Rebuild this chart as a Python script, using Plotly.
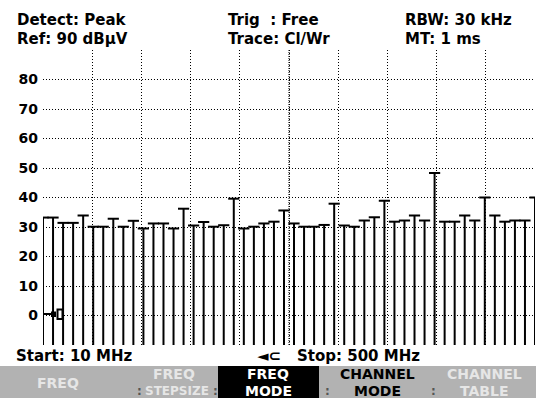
import plotly.graph_objects as go

freq_mhz = [10, 20, 30, 40, 50, 60, 70, 80, 90, 100,
            110, 120, 130, 140, 150, 160, 170, 180, 190, 200,
            210, 220, 230, 240, 250, 260, 270, 280, 290, 300,
            310, 320, 330, 340, 350, 360, 370, 380, 390, 400,
            410, 420, 430, 440, 450, 460, 470, 480, 490, 500]
level_dbuv = [33.2, 33.2, 31.4, 31.4, 33.9, 30.1, 30.1, 32.8, 30.1, 32.1,
              29.5, 31.2, 31.2, 29.5, 36.2, 30.5, 31.7, 30.1, 30.6, 39.6,
              29.5, 30.1, 31.2, 31.8, 35.6, 31.2, 30.1, 30.1, 30.7, 37.9,
              30.5, 30.1, 32.2, 33.3, 38.9, 31.8, 32.2, 33.9, 32.2, 48.3,
              31.8, 31.8, 33.9, 32.2, 40.0, 33.9, 31.8, 32.2, 32.2, 40.0]
y_ticks = [-10, 0, 10, 20, 30, 40, 50, 60, 70, 80, 90]
y_ticktext = ["", "0", "10", "20", "30", "40", "50", "60", "70", "80", ""]
x_start, x_stop, x_div = 10, 500, 49
y_min, y_max = -10, 90

header_left = ["Detect: Peak", "Ref: 90 dB\u00b5V"]
header_mid = ["Trig\u00a0\u00a0: Free", "Trace: Cl/Wr"]
header_right = ["RBW: 30 kHz", "MT: 1 ms"]

# ---- geometry (pixels) ----
W, H = 536, 398
L, R, T, B = 43, 535, 50, 345


def px(x):
    return (x - L) / (R - L)


def py(y):
    return (B - y) / (B - T)


xs, ys = [], []
for f, v in zip(freq_mhz, level_dbuv):
    xs += [f, f, None]
    ys += [y_min, v, None]

fig = go.Figure()
fig.add_trace(go.Scatter(x=xs, y=ys, mode="lines",
                         line=dict(color="black", width=2),
                         hoverinfo="skip", showlegend=False))
fig.add_trace(go.Scatter(x=freq_mhz, y=level_dbuv, mode="markers",
                         marker=dict(symbol="line-ew", size=8,
                                     line=dict(color="black", width=2)),
                         showlegend=False))

BF = dict(family="DejaVu Sans", size=15, color="black", weight="bold")
ann = []


def txt(s, x, y, font=None, anchor="left"):
    ann.append(dict(text=s, x=px(x), y=py(y), xref="paper", yref="paper",
                    xanchor=anchor, yanchor="middle", showarrow=False,
                    borderpad=0, font=font or BF))


txt(header_left[0], 16, 20.5)
txt(header_left[1], 16, 38.5)
txt(header_mid[0], 227, 20.5)
txt(header_mid[1], 227, 38.5)
txt(header_right[0], 404, 20.5)
txt(header_right[1], 404, 38.5)

txt("Start: 10 MHz", 15, 356)
txt("\u25c4\u2282", 256, 356)
txt("Stop: 500 MHz", 296, 356)

shapes = []
# softkey bar
shapes.append(dict(type="rect", xref="paper", yref="paper",
                   x0=px(0), x1=px(W), y0=py(H), y1=py(366),
                   fillcolor="#b2b2b2", line=dict(width=0), layer="below"))
shapes.append(dict(type="rect", xref="paper", yref="paper",
                   x0=px(218), x1=px(319), y0=py(H), y1=py(366),
                   fillcolor="black", line=dict(width=0)))
# centre line (denser dots)
shapes.append(dict(type="line", xref="x", yref="paper",
                   x0=(x_start + x_stop) / 2, x1=(x_start + x_stop) / 2,
                   y0=0, y1=1, line=dict(color="black", width=1, dash="1px,1px"),
                   layer="below"))
# reference level marker at 0 dB
shapes.append(dict(type="line", xref="paper", yref="paper",
                   x0=px(44), x1=px(51), y0=py(314), y1=py(314),
                   line=dict(color="black", width=2)))
shapes.append(dict(type="rect", xref="paper", yref="paper",
                   x0=px(51), x1=px(56), y0=py(317), y1=py(311.5),
                   fillcolor="black", line=dict(width=0)))
shapes.append(dict(type="rect", xref="paper", yref="paper",
                   x0=px(57.5), x1=px(62.5), y0=py(319), y1=py(309.5),
                   fillcolor="white", line=dict(color="black", width=2)))

SK = dict(family="DejaVu Sans", size=14, weight="bold")
dim = dict(SK, color="#e6e6e6")
dim_s = dict(dim, size=12)
blk = dict(SK, color="black")
wht = dict(SK, color="white")
sep = dict(family="DejaVu Sans", size=12, weight="bold", color="#555555")

txt("FREQ", 58, 383, dim, "center")
txt("FREQ", 174, 374, dim, "center")
txt("STEPSIZE", 177, 391, dim_s, "center")
txt("FREQ", 268, 374, wht, "center")
txt("MODE", 268, 391, wht, "center")
txt("CHANNEL", 377, 374, blk, "center")
txt("MODE", 377, 391, blk, "center")
txt("CHANNEL", 484, 374, dim, "center")
txt("TABLE", 484, 391, dim, "center")
for sx in (139, 215, 327, 433):
    txt(":", sx, 391, sep, "center")

fig.update_layout(
    width=W, height=H,
    margin=dict(l=L, r=W - R, t=T, b=H - B, pad=0),
    paper_bgcolor="white", plot_bgcolor="white",
    annotations=ann, shapes=shapes,
    xaxis=dict(range=[x_start, x_stop], tickmode="linear", tick0=x_start,
               dtick=x_div, showgrid=True, gridcolor="black", gridwidth=1,
               griddash="1px,2px", showticklabels=False, ticks="",
               zeroline=False, showline=False, fixedrange=True),
    yaxis=dict(range=[y_min, y_max], tickmode="array", tickvals=y_ticks,
               ticktext=y_ticktext, showgrid=True, gridcolor="black",
               gridwidth=1, griddash="1px,2px", ticks="",
               tickfont=dict(family="DejaVu Sans", size=14, color="black",
                             weight="bold"),
               ticklabelstandoff=4,
               zeroline=False, showline=False, fixedrange=True),
)

fig.write_html("out.html",
               config={"displayModeBar": False},
               post_script="document.body.style.margin='0';"
                           "document.body.style.overflow='hidden';")
